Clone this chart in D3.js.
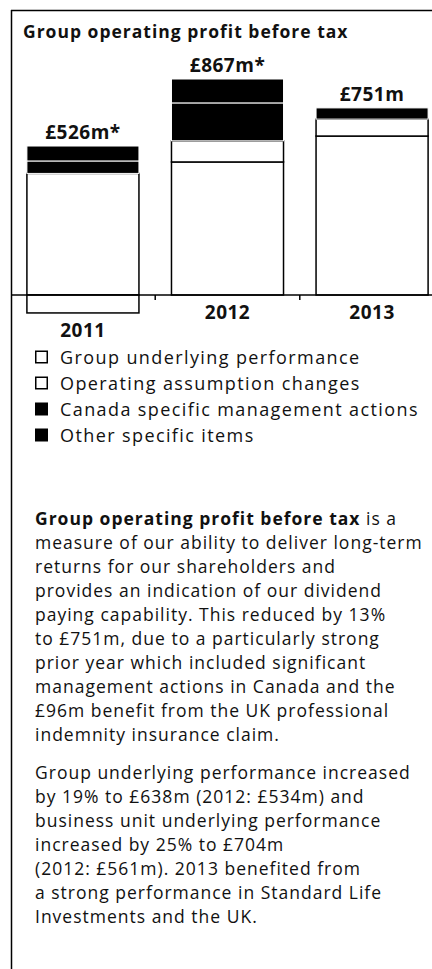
<!DOCTYPE html>
<html>
<head>
<meta charset="UTF-8">
<script src="https://cdn.jsdelivr.net/npm/d3@7"></script>
<style>
body { margin: 0; background: #fff; }
svg { display: block; }
text { font-family: "Open Sans", sans-serif; fill: #111; }
</style>
</head>
<body>
<script>

// data (GBP m)
var years = ["2011", "2012", "2013"];
var underlying = [488, 534, 638];
var assumption = [-72, 85, 68];
var canada = [50, 152, 0];
var other = [60, 96, 45];
var totalLabels = ["£526m*", "£867m*", "£751m"];

var seriesKeys = ["underlying", "assumption", "canada", "other"];
var seriesNames = ["Group underlying performance", "Operating assumption changes",
    "Canada specific management actions", "Other specific items"];
var seriesFill = ["#fff", "#fff", "#000", "#000"];

var para1 = [
    [["Group operating profit before tax", true], [" is a", false]],
    [["measure of our ability to deliver long-term", false]],
    [["returns for our shareholders and", false]],
    [["provides an indication of our dividend", false]],
    [["paying capability. This reduced by 13%", false]],
    [["to £751m, due to a particularly strong", false]],
    [["prior year which included significant", false]],
    [["management actions in Canada and the", false]],
    [["£96m benefit from the UK professional", false]],
    [["indemnity insurance claim.", false]]
];
var para2 = [
    "Group underlying performance increased",
    "by 19% to £638m (2012: £534m) and",
    "business unit underlying performance",
    "increased by 25% to £704m",
    "(2012: £561m). 2013 benefited from",
    "a strong performance in Standard Life",
    "Investments and the UK."
];

var width = 432, height = 969;

var table = years.map(function(y, i) {
    return { year: y, underlying: underlying[i], assumption: assumption[i],
        canada: canada[i], other: other[i], label: totalLabels[i] };
});

var svg = d3.select("body").append("svg")
    .attr("width", width)
    .attr("height", height);

// frame
svg.append("line").attr("x1", 11).attr("x2", width).attr("y1", 10.5).attr("y2", 10.5)
    .attr("stroke", "#000").attr("stroke-width", 1.5);
svg.append("line").attr("x1", 11.5).attr("x2", 11.5).attr("y1", 10).attr("y2", height)
    .attr("stroke", "#000").attr("stroke-width", 1.5);

svg.append("text")
    .attr("x", 23).attr("y", 38)
    .attr("font-size", 17.5).attr("font-weight", "bold")
    .attr("letter-spacing", 1)
    .text("Group operating profit before tax");

var x = d3.scaleBand()
    .domain(years)
    .range([11, 444])
    .paddingInner(0.225)
    .paddingOuter(0.11);

var y = d3.scaleLinear()
    .domain([0, 867])
    .range([295, 79]);

var stack = d3.stack()
    .keys(seriesKeys)
    .offset(d3.stackOffsetDiverging);

var layers = stack(table);

var barg = svg.append("g");
layers.forEach(function(layer, k) {
    barg.selectAll(null)
        .data(layer.filter(function(d) { return d[1] !== d[0]; }))
        .enter().append("rect")
        .attr("x", function(d) { return x(d.data.year); })
        .attr("width", x.bandwidth())
        .attr("y", function(d) { return y(Math.max(d[0], d[1])); })
        .attr("height", function(d) { return Math.abs(y(d[0]) - y(d[1])); })
        .attr("fill", seriesFill[k])
        .attr("stroke", seriesFill[k] === "#000" ? "#fff" : "#000")
        .attr("stroke-width", seriesFill[k] === "#000" ? 1 : 1.5);
});

// baseline and ticks between bars
svg.append("line").attr("x1", 11).attr("x2", width)
    .attr("y1", y(0)).attr("y2", y(0))
    .attr("stroke", "#000").attr("stroke-width", 1.5);
var step = x.step();
years.slice(1).forEach(function(yr) {
    var tx = x(yr) - step * x.paddingInner() / 2;
    svg.append("line").attr("x1", tx).attr("x2", tx)
        .attr("y1", y(0)).attr("y2", y(0) + 5)
        .attr("stroke", "#000").attr("stroke-width", 1.5);
});

// total labels
svg.selectAll(".total")
    .data(table)
    .enter().append("text")
    .attr("class", "total")
    .attr("x", function(d) { return x(d.year) + x.bandwidth() / 2; })
    .attr("y", function(d) {
        var top = d3.sum(seriesKeys, function(k) { return Math.max(0, d[k]); });
        return y(top) - 7;
    })
    .attr("text-anchor", "middle")
    .attr("font-size", 19).attr("font-weight", "bold")
    .attr("letter-spacing", 0.5)
    .text(function(d) { return d.label; });

// year labels, under the lowest point of each bar
svg.selectAll(".year")
    .data(table)
    .enter().append("text")
    .attr("class", "year")
    .attr("x", function(d) { return x(d.year) + x.bandwidth() / 2; })
    .attr("y", function(d) {
        var bottom = d3.sum(seriesKeys, function(k) { return Math.min(0, d[k]); });
        return y(bottom) + 24;
    })
    .attr("text-anchor", "middle")
    .attr("font-size", 19).attr("font-weight", "bold")
    .attr("letter-spacing", 0.5)
    .text(function(d) { return d.year; });

// legend
var legend = svg.selectAll(".legend")
    .data(seriesNames)
    .enter().append("g")
    .attr("class", "legend")
    .attr("transform", function(d, i) { return "translate(35," + (357 + i * 26) + ")"; });
legend.append("rect")
    .attr("x", 0.75).attr("y", -5.75)
    .attr("width", 11.5).attr("height", 11.5)
    .attr("fill", function(d, i) { return seriesFill[i]; })
    .attr("stroke", "#000").attr("stroke-width", 1.5);
legend.append("text")
    .attr("x", 25).attr("y", 6.5)
    .attr("font-size", 18)
    .attr("letter-spacing", 1.4)
    .text(function(d) { return d; });

// commentary
var lh = 24;
var t1 = svg.append("text").attr("font-size", 17.5).attr("letter-spacing", 1);
para1.forEach(function(line, i) {
    var first = true;
    line.forEach(function(part) {
        var ts = t1.append("tspan").text(part[0])
            .attr("font-weight", part[1] ? "bold" : "normal");
        if (first) ts.attr("x", 35).attr("y", 525 + i * lh);
        first = false;
    });
});
var t2 = svg.append("text").attr("font-size", 17.5).attr("letter-spacing", 1);
para2.forEach(function(line, i) {
    t2.append("tspan").attr("x", 35).attr("y", 779 + i * lh).text(line);
});
</script>
</body>
</html>
